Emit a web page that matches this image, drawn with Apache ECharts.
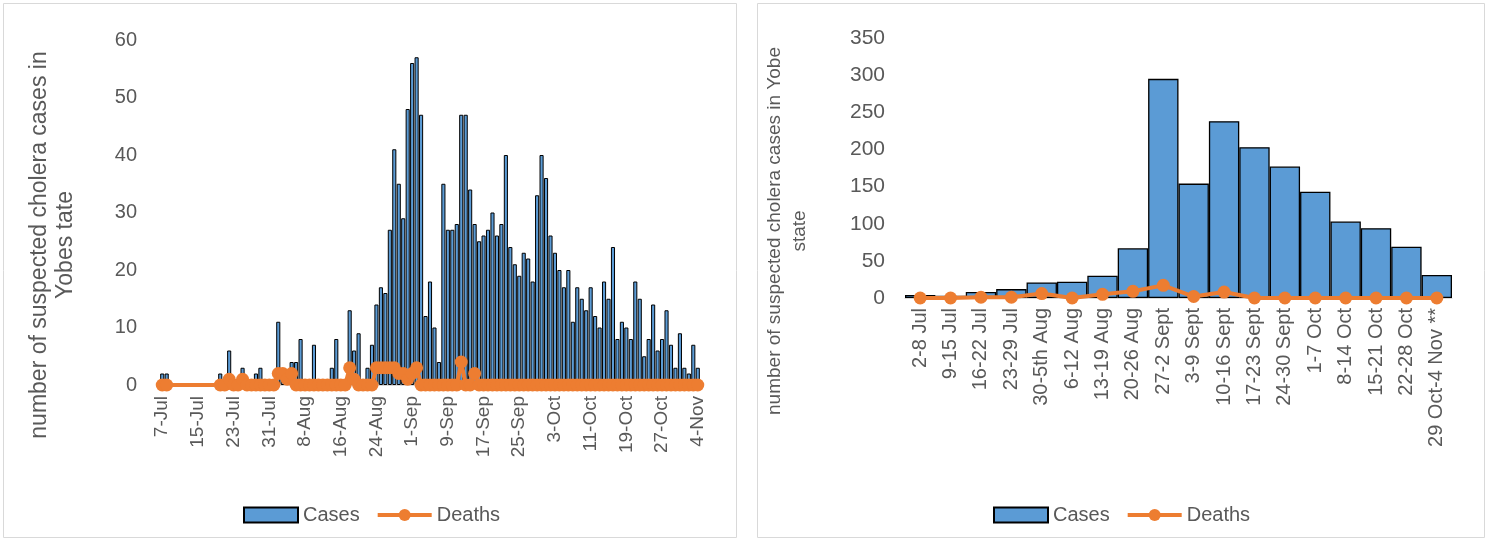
<!DOCTYPE html>
<html>
<head>
<meta charset="utf-8">
<script src="https://cdn.jsdelivr.net/npm/echarts@6/dist/echarts.min.js"></script>
<style>
  html, body { margin: 0; padding: 0; background: #fff; }
  #chart { width: 1489px; height: 542px; }
</style>
</head>
<body>
<div id="chart"></div>
<script>
// left chart: daily counts, 7-Jul .. 4-Nov (null = no report that day)
var dailyStart = [7, 6];   // day, month index (July)
var dailyCount = 121;
var monthNames = ['Jan','Feb','Mar','Apr','May','Jun','Jul','Aug','Sep','Oct','Nov','Dec'];

var casesDaily = [
  2, 2, null, null, null, null, null, null, null, null, null, null, null, 2, 0, 6, 1, 1, 3, 1,
  1, 2, 3, 1, 1, 1, 11, 2, 1, 4, 4, 8, 1, 1, 7, 1, 1, 1, 3, 8,
  1, 1, 13, 6, 9, 1, 3, 7, 14, 17, 16, 27, 41, 35, 29, 48, 56, 57, 47, 12,
  18, 10, 4, 35, 27, 27, 28, 47, 47, 34, 28, 25, 26, 27, 30, 26, 28, 40, 24, 21,
  19, 23, 22, 18, 33, 40, 36, 26, 23, 20, 17, 20, 11, 17, 15, 13, 17, 12, 10, 18,
  15, 24, 8, 11, 10, 8, 18, 15, 5, 8, 14, 6, 8, 13, 7, 3, 9, 3, 2, 7,
  3
];
var deathsDaily = [
  0, 0, null, null, null, null, null, null, null, null, null, null, null, 0, 0, 1, 0, 0, 1, 0,
  0, 0, 0, 0, 0, 0, 2, 2, 1, 2, 0, 0, 0, 0, 0, 0, 0, 0, 0, 0,
  0, 0, 3, 1, 0, 0, 0, 0, 3, 3, 3, 3, 3, 2, 2, 1, 2, 3, 0, 0,
  0, 0, 0, 0, 0, 0, 0, 4, 0, 0, 2, 0, 0, 0, 0, 0, 0, 0, 0, 0,
  0, 0, 0, 0, 0, 0, 0, 0, 0, 0, 0, 0, 0, 0, 0, 0, 0, 0, 0, 0,
  0, 0, 0, 0, 0, 0, 0, 0, 0, 0, 0, 0, 0, 0, 0, 0, 0, 0, 0, 0,
  0
];

// right chart: weekly totals
var weeks = ['2-8 Jul', '9-15 Jul', '16-22 Jul', '23-29 Jul', '30-5th Aug', '6-12 Aug',
  '13-19 Aug', '20-26 Aug', '27-2 Sept', '3-9 Sept', '10-16 Sept', '17-23 Sept',
  '24-30 Sept', '1-7 Oct', '8-14 Oct', '15-21 Oct', '22-28 Oct', '29 Oct-4 Nov **'];
var casesWeekly = [4, 3, 8, 12, 21, 22, 30, 67, 295, 154, 238, 203, 177, 143, 103, 94, 69, 31];
var deathsWeekly = [0, 0, 1, 1, 6, 0, 5, 9, 17, 2, 8, 0, 0, 0, 0, 0, 0, 0];

var days = [];
for (var i = 0; i < dailyCount; i++) {
  var d = new Date(2018, dailyStart[1], dailyStart[0] + i);
  days.push(d.getDate() + '-' + monthNames[d.getMonth()]);
}

var FONT = 'Liberation Sans';
var GREY = '#595959';
var BLUE = '#5B9BD5';
var ORANGE = '#ED7D31';

function legendFor(left) {
  return {
    left: left, top: 500, itemWidth: 54, itemHeight: 15, itemGap: 16,
    textStyle: { fontSize: 20, color: GREY, fontFamily: FONT },
    data: [
      { name: 'Cases', icon: 'rect' },
      { name: 'Deaths' }
    ],
    lineStyle: { width: 4 }
  };
}

var chart = echarts.init(document.getElementById('chart'));
var option = {
  animation: false,
  textStyle: { fontFamily: FONT },
  grid: [
    { left: 160, top: 40, width: 540, height: 345 },
    { left: 905, top: 38, width: 547, height: 260 }
  ],
  legend: [legendFor(238), legendFor(988)],
  xAxis: [
    {
      type: 'category', gridIndex: 0, data: days,
      axisLine: { lineStyle: { color: '#D9D9D9', width: 1 } },
      axisTick: { interval: 7, length: 6, lineStyle: { color: '#BFBFBF' } },
      axisLabel: { interval: 7, rotate: 90, fontSize: 19, color: GREY, margin: 11 }
    },
    {
      type: 'category', gridIndex: 1, data: weeks,
      axisLine: { lineStyle: { color: '#D9D9D9', width: 1 } },
      axisTick: { show: false },
      axisLabel: { interval: 0, rotate: 90, fontSize: 20, color: GREY, margin: 10 }
    }
  ],
  yAxis: [
    {
      type: 'value', gridIndex: 0, min: 0, max: 60, interval: 10,
      splitLine: { show: false }, axisLine: { show: false }, axisTick: { show: false },
      axisLabel: { fontSize: 20, color: GREY, margin: 23 }
    },
    {
      type: 'value', gridIndex: 1, min: 0, max: 350, interval: 50,
      splitLine: { show: false }, axisLine: { show: false }, axisTick: { show: false },
      axisLabel: { fontSize: 21, color: GREY, margin: 20 }
    }
  ],
  series: [
    {
      name: 'Cases', type: 'bar', xAxisIndex: 0, yAxisIndex: 0, data: casesDaily,
      barCategoryGap: '8%',
      itemStyle: { color: BLUE, borderColor: '#000', borderWidth: 1 }
    },
    {
      name: 'Deaths', type: 'line', xAxisIndex: 0, yAxisIndex: 0, data: deathsDaily,
      connectNulls: true, symbol: 'circle', symbolSize: 13, showAllSymbol: true,
      lineStyle: { color: ORANGE, width: 4 }, itemStyle: { color: ORANGE }
    },
    {
      name: 'Cases', type: 'bar', xAxisIndex: 1, yAxisIndex: 1, data: casesWeekly,
      barCategoryGap: '0%',
      itemStyle: { color: BLUE, borderColor: '#000', borderWidth: 1.3 }
    },
    {
      name: 'Deaths', type: 'line', xAxisIndex: 1, yAxisIndex: 1, data: deathsWeekly,
      symbol: 'circle', symbolSize: 13, showAllSymbol: true,
      lineStyle: { color: ORANGE, width: 4 }, itemStyle: { color: ORANGE }
    }
  ],
  graphic: [
    { type: 'rect', shape: { x: 3.5, y: 3.5, width: 733, height: 534 },
      style: { fill: 'none', stroke: '#D9D9D9', lineWidth: 1 }, silent: true },
    { type: 'rect', shape: { x: 757.5, y: 3.5, width: 727, height: 534 },
      style: { fill: 'none', stroke: '#D9D9D9', lineWidth: 1 }, silent: true },
    { type: 'text', x: 40, y: 245, rotation: Math.PI / 2,
      style: { text: 'number of suspected cholera cases in', font: '23px "Liberation Sans"',
        fill: GREY, textAlign: 'center', textVerticalAlign: 'middle' } },
    { type: 'text', x: 66, y: 245, rotation: Math.PI / 2,
      style: { text: 'Yobes tate', font: '23px "Liberation Sans"',
        fill: GREY, textAlign: 'center', textVerticalAlign: 'middle' } },
    { type: 'text', x: 775, y: 231, rotation: Math.PI / 2,
      style: { text: 'number of suspected cholera cases in Yobe', font: '19px "Liberation Sans"',
        fill: GREY, textAlign: 'center', textVerticalAlign: 'middle' } },
    { type: 'text', x: 800, y: 231, rotation: Math.PI / 2,
      style: { text: 'state', font: '19px "Liberation Sans"',
        fill: GREY, textAlign: 'center', textVerticalAlign: 'middle' } }
  ]
};
chart.setOption(option);
</script>
</body>
</html>
